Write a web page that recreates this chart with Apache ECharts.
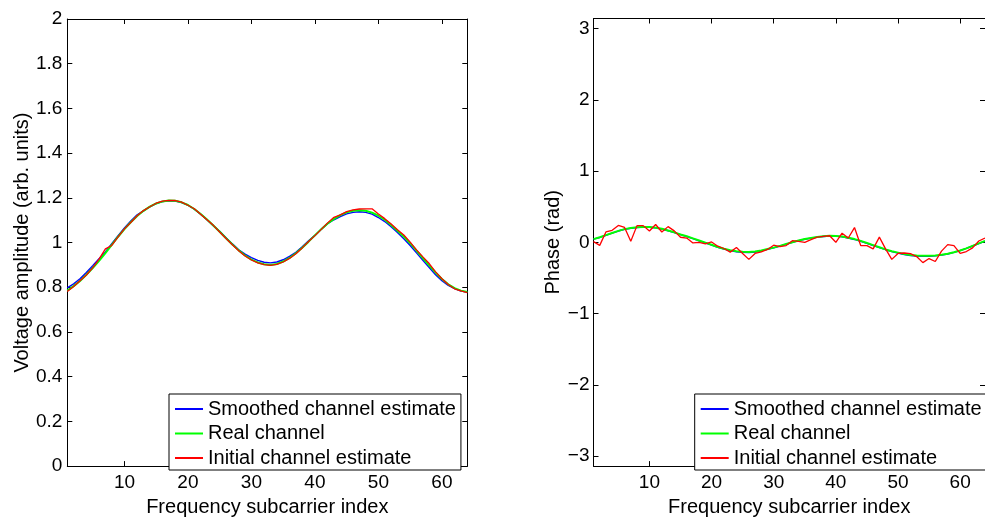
<!DOCTYPE html>
<html>
<head>
<meta charset="utf-8">
<script src="https://cdn.jsdelivr.net/npm/echarts@6.0.0/dist/echarts.min.js"></script>
<style>
  html, body { margin: 0; padding: 0; background: #fff; }
  #chart { width: 985px; height: 522px; }
</style>
</head>
<body>
<div id="chart"></div>
<script>
// Subcarrier indices 1..64
const subcarriers = [
  1, 2, 3, 4, 5, 6, 7, 8, 9, 10, 11, 12, 13, 14, 15, 16,
  17, 18, 19, 20, 21, 22, 23, 24, 25, 26, 27, 28, 29, 30, 31, 32,
  33, 34, 35, 36, 37, 38, 39, 40, 41, 42, 43, 44, 45, 46, 47, 48,
  49, 50, 51, 52, 53, 54, 55, 56, 57, 58, 59, 60, 61, 62, 63, 64
];

const seriesNames = ['Smoothed channel estimate', 'Real channel', 'Initial channel estimate'];

// Amplitude (arb. units)
const ampSmoothed = [
  0.797, 0.815, 0.838, 0.866, 0.896, 0.928, 0.958, 0.995, 1.031, 1.065,
  1.096, 1.124, 1.142, 1.160, 1.174, 1.183, 1.187, 1.186, 1.179, 1.167,
  1.149, 1.127, 1.102, 1.075, 1.050, 1.022, 0.994, 0.968, 0.948, 0.933,
  0.920, 0.912, 0.909, 0.913, 0.923, 0.938, 0.956, 0.981, 1.008, 1.032,
  1.060, 1.084, 1.102, 1.116, 1.128, 1.135, 1.138, 1.135, 1.127, 1.112,
  1.094, 1.071, 1.045, 1.017, 0.987, 0.954, 0.921, 0.888, 0.856, 0.829,
  0.808, 0.794, 0.783, 0.778
];
const ampReal = [
  0.785, 0.805, 0.828, 0.856, 0.886, 0.918, 0.953, 0.990, 1.026, 1.060,
  1.091, 1.119, 1.142, 1.161, 1.175, 1.184, 1.188, 1.187, 1.180, 1.168,
  1.150, 1.128, 1.103, 1.076, 1.048, 1.019, 0.991, 0.965, 0.942, 0.924,
  0.911, 0.903, 0.900, 0.904, 0.915, 0.931, 0.952, 0.977, 1.004, 1.032,
  1.060, 1.085, 1.106, 1.123, 1.135, 1.142, 1.145, 1.142, 1.134, 1.120,
  1.102, 1.079, 1.053, 1.027, 0.997, 0.964, 0.931, 0.898, 0.866, 0.837,
  0.813, 0.796, 0.785, 0.779
];
const ampInitial = [
  0.781, 0.803, 0.829, 0.855, 0.887, 0.926, 0.972, 0.987, 1.025, 1.061,
  1.090, 1.120, 1.143, 1.160, 1.176, 1.185, 1.189, 1.188, 1.181, 1.167,
  1.151, 1.127, 1.102, 1.077, 1.047, 1.018, 0.990, 0.963, 0.940, 0.922,
  0.909, 0.901, 0.898, 0.902, 0.913, 0.929, 0.950, 0.976, 1.005, 1.031,
  1.059, 1.088, 1.113, 1.124, 1.138, 1.146, 1.150, 1.151, 1.151, 1.128,
  1.107, 1.083, 1.057, 1.034, 1.002, 0.967, 0.936, 0.906, 0.869, 0.838,
  0.812, 0.793, 0.784, 0.776
];

// Phase (rad)
const phaseSmoothed = [
  0.045, 0.068, 0.098, 0.128, 0.158, 0.183, 0.198, 0.208, 0.213, 0.212,
  0.202, 0.186, 0.162, 0.136, 0.107, 0.080, 0.051, 0.021, -0.009, -0.040,
  -0.070, -0.096, -0.117, -0.132, -0.141, -0.143, -0.137, -0.121, -0.100, -0.078,
  -0.053, -0.027, -0.002, 0.023, 0.043, 0.058, 0.072, 0.082, 0.088, 0.086,
  0.076, 0.060, 0.040, 0.015, -0.015, -0.045, -0.075, -0.104, -0.130, -0.151,
  -0.171, -0.185, -0.194, -0.198, -0.197, -0.191, -0.180, -0.164, -0.142, -0.116,
  -0.086, -0.052, -0.018, 0.016
];
const phaseReal = [
  0.045, 0.070, 0.100, 0.130, 0.160, 0.185, 0.200, 0.210, 0.215, 0.215,
  0.205, 0.190, 0.165, 0.140, 0.110, 0.085, 0.055, 0.025, -0.005, -0.035,
  -0.065, -0.090, -0.110, -0.125, -0.133, -0.135, -0.130, -0.115, -0.095, -0.075,
  -0.050, -0.025, 0.000, 0.025, 0.045, 0.060, 0.075, 0.085, 0.092, 0.090,
  0.080, 0.065, 0.045, 0.020, -0.010, -0.040, -0.070, -0.100, -0.125, -0.145,
  -0.165, -0.178, -0.186, -0.190, -0.190, -0.185, -0.175, -0.160, -0.140, -0.115,
  -0.085, -0.050, -0.015, 0.020
];
const phaseInitial = [
  0.010, -0.043, 0.146, 0.168, 0.237, 0.208, 0.014, 0.234, 0.234, 0.158,
  0.250, 0.145, 0.220, 0.160, 0.071, 0.060, -0.009, 0.000, -0.023, 0.005,
  -0.055, -0.087, -0.138, -0.074, -0.158, -0.240, -0.156, -0.133, -0.100, -0.041,
  -0.060, -0.046, 0.023, 0.014, 0.000, 0.037, 0.073, 0.083, 0.092, 0.000,
  0.128, 0.060, 0.207, -0.046, -0.046, -0.092, 0.073, -0.092, -0.240, -0.156,
  -0.150, -0.160, -0.200, -0.285, -0.228, -0.270, -0.124, -0.032, -0.046, -0.156,
  -0.130, -0.078, 0.018, 0.060
];

// Tick positions
const xTicks = [10, 20, 30, 40, 50, 60];
const phaseTicks = [-3, -2, -1, 0, 1, 2, 3];

const FONT = '"Liberation Sans", Arial, Helvetica, sans-serif';
const colors = ['#0000ff', '#00ff00', '#ff0000'];
const widths = [1.4, 2, 1.3];

function pairs(values) {
  return subcarriers.map((x, i) => [x, values[i]]);
}

const tickStyle = { inside: true, length: 5, lineStyle: { color: '#000', width: 1 } };
const lineStyle = { show: true, onZero: false, lineStyle: { color: '#000', width: 1 } };
const labelStyle = { color: '#000', fontSize: 19, fontFamily: FONT };
const nameStyle = { color: '#000', fontSize: 20, fontFamily: FONT };

function xAxes(gridIndex) {
  const base = {
    type: 'value', gridIndex: gridIndex, min: 1, max: 64,
    splitLine: { show: false }, axisLine: lineStyle,
    axisTick: Object.assign({ customValues: xTicks }, tickStyle)
  };
  return [
    Object.assign({}, base, {
      position: 'bottom',
      axisLabel: Object.assign({ customValues: xTicks, margin: 7 }, labelStyle),
      name: 'Frequency subcarrier index', nameLocation: 'middle', nameGap: 25,
      nameTextStyle: nameStyle
    }),
    Object.assign({}, base, { position: 'top', axisLabel: { show: false } })
  ];
}

const option = {
  animation: false,
  backgroundColor: '#fff',
  textStyle: { fontFamily: FONT },
  grid: [
    { left: 67.3, top: 19, width: 400, height: 455.3, containLabel: false },
    { left: 593.5, top: 18.5, width: 399.3, height: 455.8, containLabel: false }
  ],
  legend: [0, 1].map(k => ({
    data: seriesNames,
    orient: 'vertical',
    left: k === 0 ? 169 : 694.7,
    top: 394,
    padding: [5, 5, 2, 5],
    itemWidth: 28,
    itemHeight: 14,
    itemGap: 4.5,
    backgroundColor: '#fff',
    borderColor: '#000',
    borderWidth: 1,
    borderRadius: 0,
    selectedMode: false,
    // line-only key: hide the marker drawn on top of the line sample
    itemStyle: { opacity: 0 },
    textStyle: { color: '#000', fontSize: 20, fontFamily: FONT, lineHeight: 20 }
  })),
  xAxis: [].concat(xAxes(0), xAxes(1)),
  yAxis: [
    {
      type: 'value', gridIndex: 0, min: 0, max: 2, interval: 0.2, position: 'left',
      splitLine: { show: false }, axisLine: lineStyle, axisTick: tickStyle,
      axisLabel: Object.assign({ margin: 5 }, labelStyle),
      name: 'Voltage amplitude (arb. units)', nameLocation: 'middle', nameGap: 35,
      nameTextStyle: nameStyle
    },
    {
      type: 'value', gridIndex: 0, min: 0, max: 2, interval: 0.2, position: 'right',
      splitLine: { show: false }, axisLine: lineStyle, axisTick: tickStyle,
      axisLabel: { show: false }
    },
    {
      type: 'value', gridIndex: 1, min: -Math.PI, max: Math.PI, position: 'left',
      splitLine: { show: false }, axisLine: lineStyle,
      axisTick: Object.assign({ customValues: phaseTicks }, tickStyle),
      axisLabel: Object.assign({
        customValues: phaseTicks, margin: 4,
        formatter: v => (v < 0 ? '\u2212' + Math.abs(v) : String(v))
      }, labelStyle),
      name: 'Phase (rad)', nameLocation: 'middle', nameGap: 30,
      nameTextStyle: nameStyle
    },
    {
      type: 'value', gridIndex: 1, min: -Math.PI, max: Math.PI, position: 'right',
      splitLine: { show: false }, axisLine: lineStyle,
      axisTick: Object.assign({ customValues: phaseTicks }, tickStyle),
      axisLabel: { show: false }
    }
  ],
  series: []
};

const ampSets = [ampSmoothed, ampReal, ampInitial];
const phaseSets = [phaseSmoothed, phaseReal, phaseInitial];
[ampSets, phaseSets].forEach((sets, g) => {
  sets.forEach((vals, k) => {
    option.series.push({
      name: seriesNames[k],
      type: 'line',
      xAxisIndex: g * 2,
      yAxisIndex: g * 2,
      data: pairs(vals),
      symbol: 'none',
      smooth: false,
      clip: true,
      color: colors[k],
      lineStyle: { color: colors[k], width: widths[k] },
      z: 2 + k
    });
  });
});

const chart = echarts.init(document.getElementById('chart'), null, { renderer: 'canvas' });
chart.setOption(option);
</script>
</body>
</html>
